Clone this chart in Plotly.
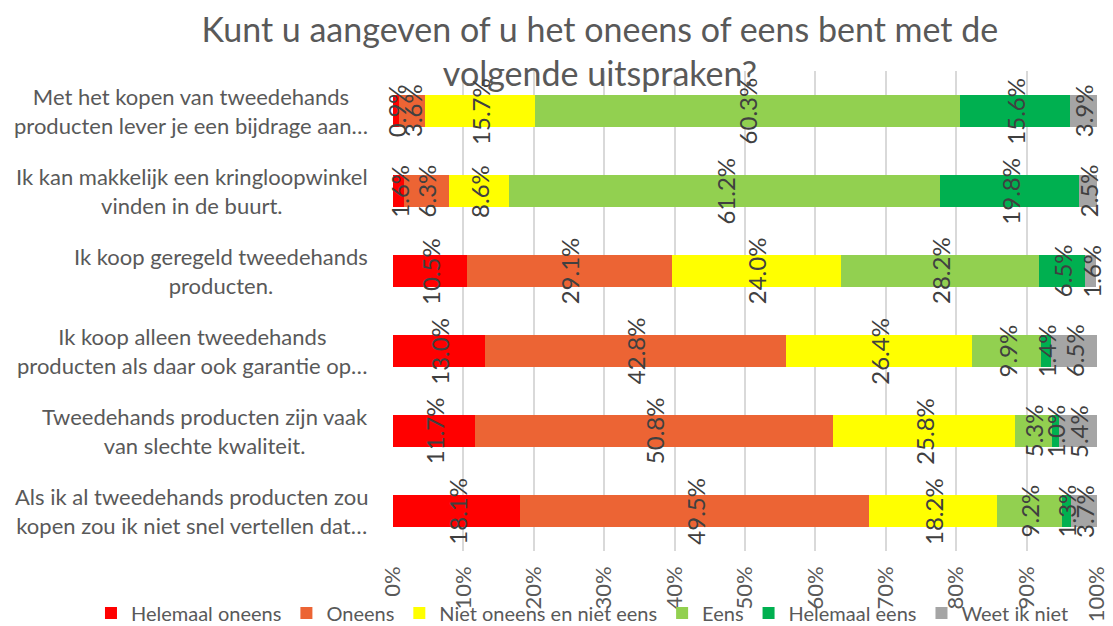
import plotly.graph_objects as go

# Survey statements (top to bottom) and answer shares in percent
statements = [
    "Met het kopen van tweedehands<br>producten lever je een bijdrage aan…",
    "Ik kan makkelijk een kringloopwinkel<br>vinden in de buurt.",
    "Ik koop geregeld tweedehands<br>producten.",
    "Ik koop alleen tweedehands<br>producten als daar ook garantie op…",
    "Tweedehands producten zijn vaak<br>van slechte kwaliteit.",
    "Als ik al tweedehands producten zou<br>kopen zou ik niet snel vertellen dat…",
]
answers = ["Helemaal oneens", "Oneens", "Niet oneens en niet eens",
           "Eens", "Helemaal eens", "Weet ik niet"]

helemaal_oneens = [0.9, 1.6, 10.5, 13.0, 11.7, 18.1]
oneens = [3.6, 6.3, 29.1, 42.8, 50.8, 49.5]
neutraal = [15.7, 8.6, 24.0, 26.4, 25.8, 18.2]
eens = [60.3, 61.2, 28.2, 9.9, 5.3, 9.2]
helemaal_eens = [15.6, 19.8, 6.5, 1.4, 1.0, 1.3]
weet_niet = [3.9, 2.5, 1.6, 6.5, 5.4, 3.7]

series = [helemaal_oneens, oneens, neutraal, eens, helemaal_eens, weet_niet]
colors = ["#FF0000", "#EC6434", "#FFFF00", "#92D050", "#00B050", "#A5A5A5"]

FONT = "Lato, Carlito, Calibri, Arial, sans-serif"
TEXT = "#595959"
ycats = list(range(len(statements)))

fig = go.Figure()
for name, vals, col in zip(answers, series, colors):
    fig.add_trace(go.Bar(
        y=ycats, x=vals, name=name, orientation="h",
        marker=dict(color=col, line=dict(width=0)),
        hoverinfo="x+name",
    ))

# Rotated value labels centred in each segment
annotations = []
for i in ycats:
    left = 0.0
    for vals in series:
        v = vals[i]
        annotations.append(dict(
            x=left + v / 2, y=i, xref="x", yref="y",
            text=f"{v:.1f}%", textangle=-90, showarrow=False,
            font=dict(family=FONT, size=24, color="#404040"),
        ))
        left += v

# Statement labels, centred line by line, right edge left of the plot
for i, s in enumerate(statements):
    annotations.append(dict(
        x=-0.033, y=i, xref="paper", yref="y", xanchor="right",
        yanchor="middle", align="center", text=s, showarrow=False,
        font=dict(family=FONT, size=22, color=TEXT),
    ))

fig.update_layout(
    width=1113, height=626,
    barmode="stack", bargap=0.6,
    paper_bgcolor="white", plot_bgcolor="white",
    margin=dict(l=393, r=16, t=71, b=75, autoexpand=False),
    font=dict(family=FONT, color=TEXT),
    title=dict(
        text="Kunt u aangeven of u het oneens of eens bent met de<br>volgende uitspraken?",
        x=0.539, xref="container", xanchor="center",
        y=0.933, yref="container", yanchor="middle",
        font=dict(family=FONT, size=34, color=TEXT),
    ),
    xaxis=dict(
        range=[0, 100], dtick=10, ticksuffix="%", tickangle=-90,
        showgrid=True, gridcolor="#D9D9D9", gridwidth=1.5,
        zeroline=False, showline=False,
        tickfont=dict(family=FONT, size=22, color=TEXT),
        ticklabelstandoff=10,
    ),
    yaxis=dict(
        range=[5.5, -0.5], showticklabels=False, showgrid=False,
        zeroline=False, showline=False,
    ),
    legend=dict(
        orientation="h", traceorder="normal",
        x=-0.429, xanchor="left", y=-0.129, yanchor="middle",
        font=dict(family=FONT, size=20, color=TEXT),
        itemwidth=30, tracegroupgap=0, bgcolor="rgba(0,0,0,0)",
    ),
    annotations=annotations,
    showlegend=True,
)

fig.write_html("out.html")
